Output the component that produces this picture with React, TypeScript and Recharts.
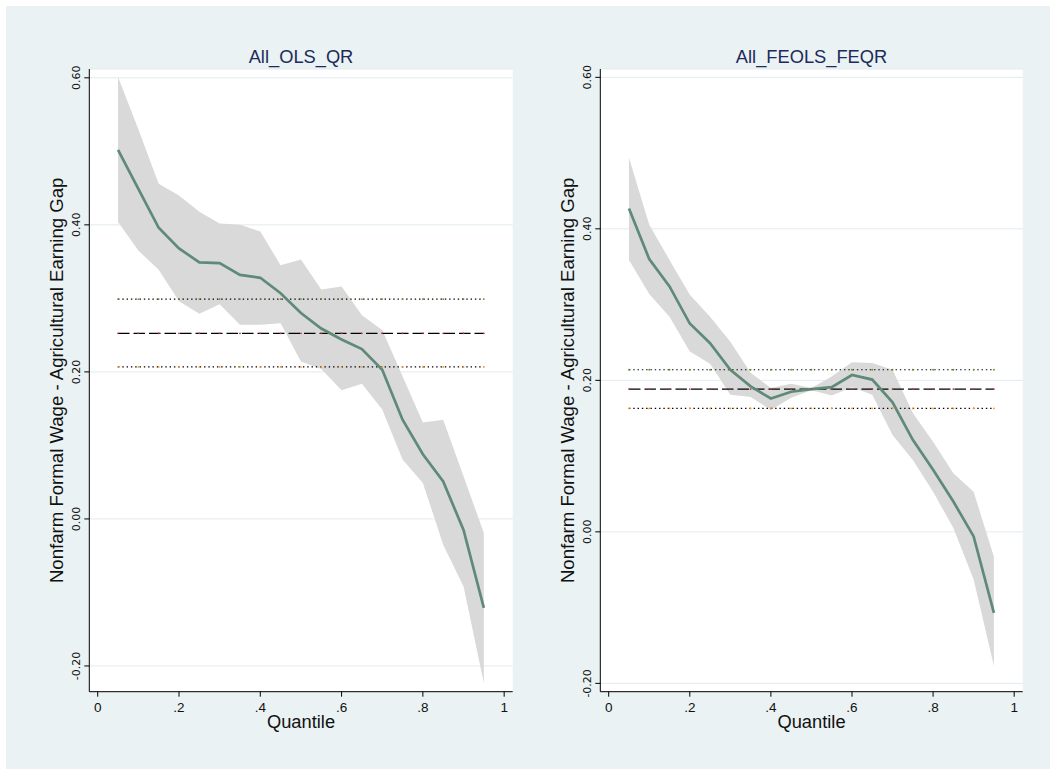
import React from 'react';
import { ComposedChart, Area, Line, XAxis, YAxis, CartesianGrid, Label } from 'recharts';

// quantiles used in both panels
const quantiles = [0.05, 0.1, 0.15, 0.2, 0.25, 0.3, 0.35, 0.4, 0.45, 0.5, 0.55, 0.6, 0.65, 0.7, 0.75, 0.8, 0.85, 0.9, 0.95];

// All_OLS_QR
const olsEst = [0.502, 0.449, 0.396, 0.368, 0.349, 0.348, 0.332, 0.328, 0.307, 0.28, 0.259, 0.244, 0.231, 0.203, 0.135, 0.088, 0.051, -0.015, -0.121];
const olsHi = [0.601, 0.53, 0.456, 0.44, 0.418, 0.402, 0.4, 0.391, 0.345, 0.353, 0.312, 0.316, 0.277, 0.257, 0.194, 0.131, 0.135, 0.058, -0.019];
const olsLo = [0.404, 0.365, 0.339, 0.296, 0.279, 0.292, 0.264, 0.264, 0.266, 0.214, 0.204, 0.175, 0.184, 0.149, 0.081, 0.049, -0.035, -0.092, -0.223];
const olsRef = [0.299, 0.2525, 0.2068]; // upper CI, OLS estimate, lower CI

// All_FEOLS_FEQR
const feEst = [0.427, 0.36, 0.324, 0.275, 0.249, 0.214, 0.192, 0.176, 0.185, 0.1885, 0.191, 0.207, 0.201, 0.171, 0.1215, 0.082, 0.04, -0.006, -0.107];
const feHi = [0.494, 0.4055, 0.359, 0.313, 0.284, 0.251, 0.21, 0.19, 0.1955, 0.19, 0.205, 0.224, 0.223, 0.214, 0.157, 0.119, 0.0775, 0.053, -0.033];
const feLo = [0.359, 0.314, 0.284, 0.238, 0.222, 0.181, 0.178, 0.161, 0.177, 0.187, 0.18, 0.191, 0.181, 0.128, 0.095, 0.053, 0.005, -0.063, -0.177];
const feRef = [0.214, 0.1885, 0.163];

const xTicks = [0, 0.2, 0.4, 0.6, 0.8, 1];
const yTicks = [-0.2, 0, 0.2, 0.4, 0.6];

const BG = '#eaf2f3';
const SANS = '"Liberation Sans", Arial, sans-serif';

const fmtX = (v: number) => (v === 0 ? '0' : v === 1 ? '1' : v.toFixed(1).replace(/^0/, ''));

const YTick = (props: any) => {
  const { x, y, payload } = props;
  return (
    <text
      x={x}
      y={y}
      transform={`rotate(-90 ${x} ${y})`}
      textAnchor="middle"
      fontSize={11}
      fontFamily='"DejaVu Sans", sans-serif'
      fill="#111"
    >
      {Number(payload.value).toFixed(2)}
    </text>
  );
};

interface PanelProps {
  title: string;
  est: number[];
  hi: number[];
  lo: number[];
  refs: number[];
  yDomain: [number, number];
  marginRight: number;
}

const Panel: React.FC<PanelProps> = ({ title, est, hi, lo, refs, yDomain, marginRight }) => {
  const data = quantiles.map((q, i) => ({
    q,
    est: est[i],
    band: [lo[i], hi[i]],
    refHi: refs[0],
    refMid: refs[1],
    refLo: refs[2],
  }));

  return (
    <ComposedChart
      width={530}
      height={769}
      data={data}
      margin={{ top: 69, right: marginRight, bottom: 37.3, left: 39.3 }}
    >
      <CartesianGrid vertical={false} stroke="#e2ebee" fill="#ffffff" />
      <XAxis
        dataKey="q"
        type="number"
        domain={[-0.0207, 1.021]}
        ticks={xTicks}
        tickFormatter={fmtX}
        allowDataOverflow
        height={40}
        stroke="#000"
        tickSize={5}
        tickMargin={6}
        tick={{ fontSize: 13.5, fontFamily: SANS, fill: '#111' }}
      >
        <Label
          content={(p: any) => {
            const vb = p.viewBox || { x: 89.3, y: 691.7, width: 423.4 };
            return (
              <text x={vb.x + vb.width / 2} y={vb.y + 36.6} textAnchor="middle" fontSize={18.3} fontFamily={SANS} fill="#111">
                Quantile
              </text>
            );
          }}
        />
      </XAxis>
      <YAxis
        type="number"
        domain={yDomain}
        ticks={yTicks}
        allowDataOverflow
        width={50}
        stroke="#000"
        tickSize={5}
        tickMargin={4}
        tick={<YTick />}
      >
        <Label
          content={(p: any) => {
            const vb = p.viewBox || { x: 39.3, y: 69, width: 50, height: 622.7 };
            const lx = vb.x + vb.width - 26;
            const ly = vb.y + vb.height / 2;
            return (
              <text
                x={lx}
                y={ly}
                transform={`rotate(-90 ${lx} ${ly})`}
                textAnchor="middle"
                fontSize={18.6}
                fontFamily={SANS}
                fill="#111"
              >
                Nonfarm Formal Wage - Agricultural Earning Gap
              </text>
            );
          }}
        />
      </YAxis>
      <text x={89.3 + (530 - marginRight - 89.3) / 2} y={63.3} textAnchor="middle" fontSize={18.3} fontFamily={SANS} fill="#1c2b5a">
        {title}
      </text>
      <Area dataKey="band" type="linear" fill="#d9d9d9" fillOpacity={1} stroke="none" isAnimationActive={false} />
      <Line dataKey="refHi" stroke="#000" strokeWidth={1.2} strokeDasharray="1.4 2.9" dot={{ r: 0.9, fill: '#6b8e23', stroke: 'none' }} isAnimationActive={false} />
      <Line dataKey="refMid" stroke="#000" strokeWidth={1.3} strokeDasharray="11.5 4" dot={{ r: 0.9, fill: '#c0392b', stroke: 'none' }} isAnimationActive={false} />
      <Line dataKey="refLo" stroke="#000" strokeWidth={1.2} strokeDasharray="1.4 2.9" dot={{ r: 0.9, fill: '#f39c12', stroke: 'none' }} isAnimationActive={false} />
      <Line dataKey="est" type="linear" stroke="#5f8a79" strokeWidth={2.7} dot={false} isAnimationActive={false} />
    </ComposedChart>
  );
};

export default function App() {
  return (
    <div style={{ position: 'absolute', left: 0, top: 0, width: 1053, height: 769, background: '#fff', overflow: 'hidden' }}>
      <div style={{ position: 'absolute', left: 6, top: 6, width: 1044, height: 763, background: BG }} />
      <div style={{ position: 'absolute', left: 0, top: 0 }}>
        <Panel title="All_OLS_QR" est={olsEst} hi={olsHi} lo={olsLo} refs={olsRef} yDomain={[-0.235, 0.612]} marginRight={17.3} />
      </div>
      <div style={{ position: 'absolute', left: 511, top: 0 }}>
        <Panel title="All_FEOLS_FEQR" est={feEst} hi={feHi} lo={feLo} refs={feRef} yDomain={[-0.211, 0.611]} marginRight={18.3} />
      </div>
    </div>
  );
}
